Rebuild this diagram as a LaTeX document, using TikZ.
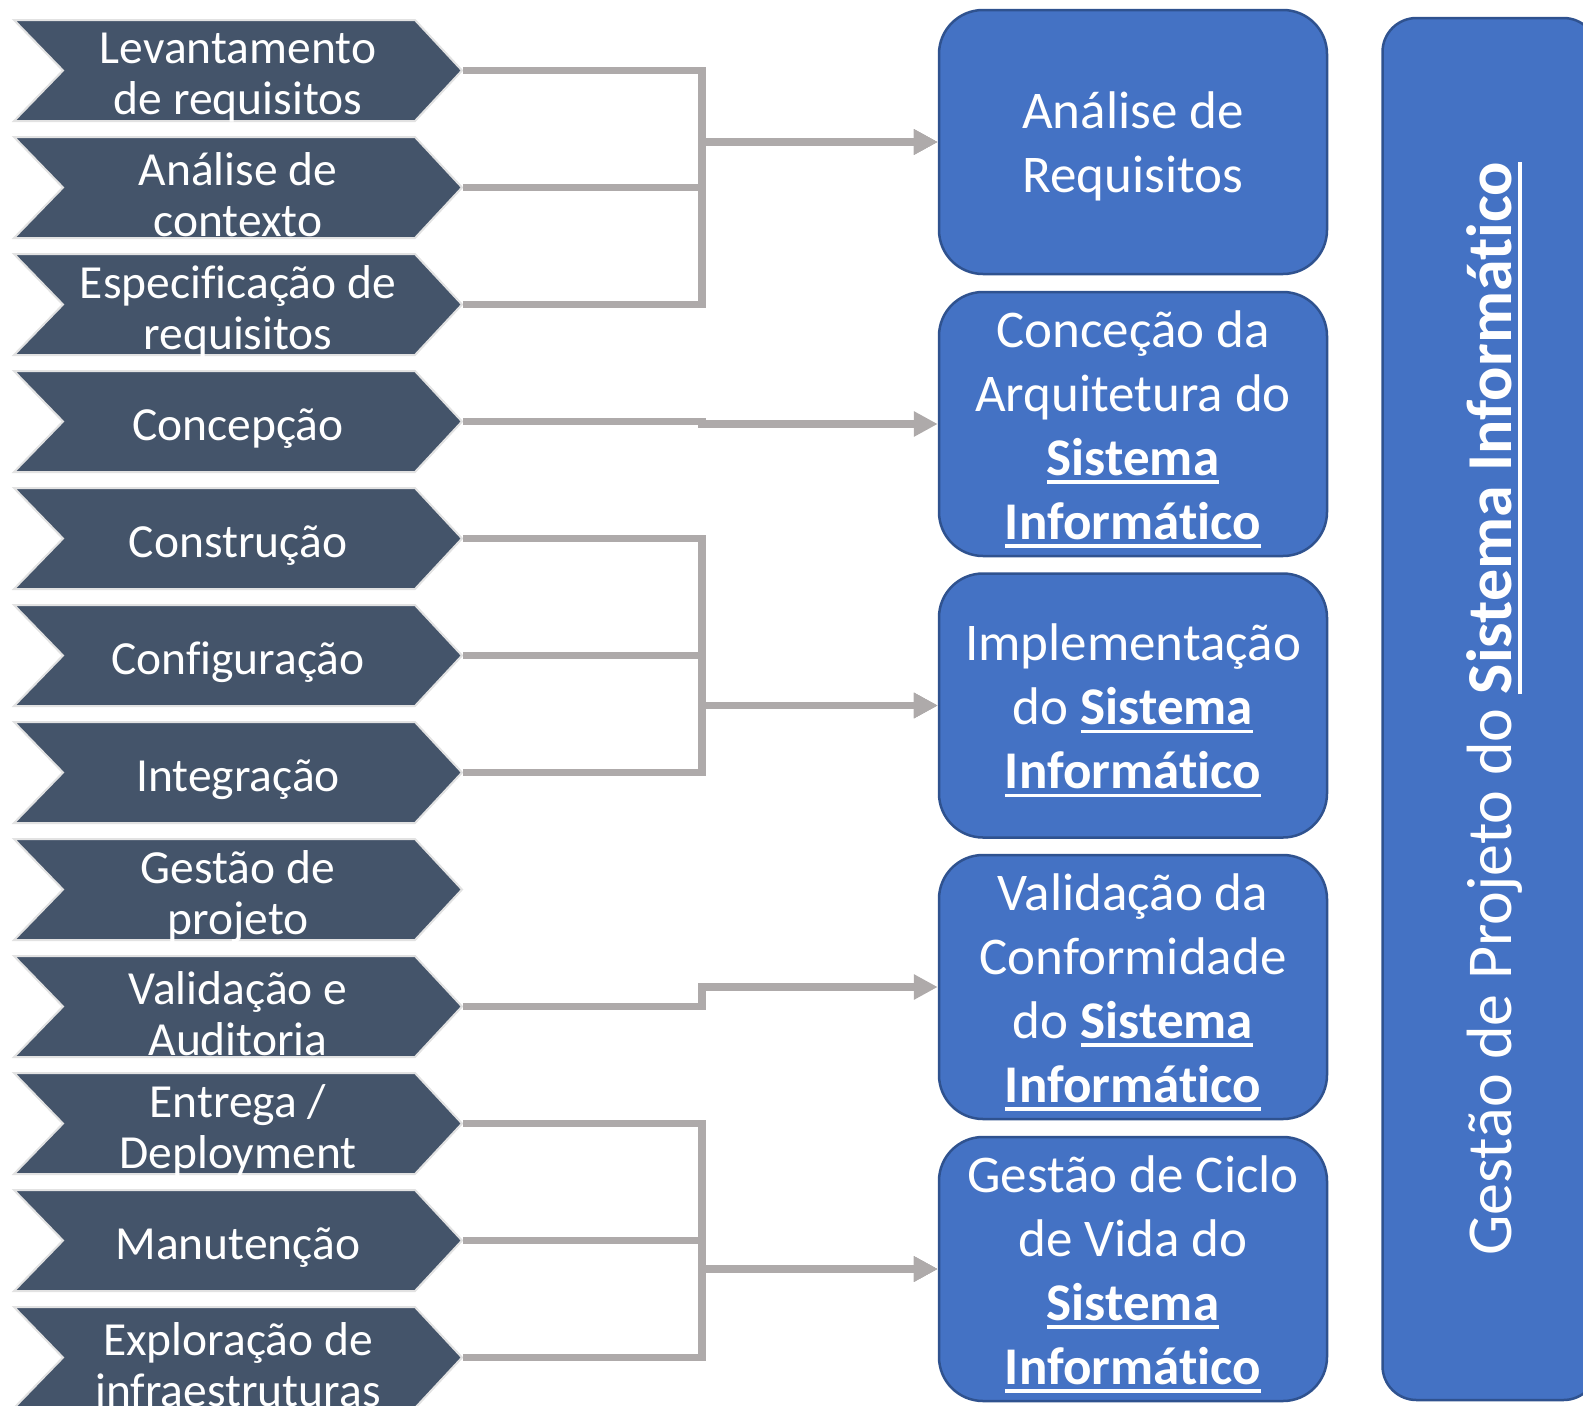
\documentclass[tikz,border=0pt]{standalone}
\usepackage{fontspec}
\setmainfont{Carlito}[Ligatures=NoCommon]
\usetikzlibrary{arrows.meta}
\definecolor{chev}{HTML}{44546A}
\definecolor{boxfill}{HTML}{4472C4}
\definecolor{boxline}{HTML}{2F528F}
\definecolor{conn}{HTML}{AEAAAA}
\definecolor{chevedge}{HTML}{E2E2E2}
\newcommand{\ubf}[1]{\setbox0\hbox{\bfseries #1}\rlap{\rule[-0.16em]{\wd0}{0.06em}}\box0}
\tikzset{
  chevshape/.style={fill=chev, draw=chevedge, line width=2pt},
  chevtext/.style={text=white, align=center, font=\fontsize{47.5}{51.5}\selectfont, inner sep=0pt},
  stagebox/.style={fill=boxfill, draw=boxline, line width=2.5pt, rounded corners=44pt,
    minimum width=388pt, minimum height=264pt, inner sep=0pt},
  stagetext/.style={text=white, align=center, font=\fontsize{53}{64}\selectfont, inner sep=0pt},
  tallbox/.style={fill=boxfill, draw=boxline, line width=2.5pt, rounded corners=34pt,
    minimum width=1382pt, minimum height=215pt, inner sep=0pt},
  talltext/.style={text=white, align=center, font=\fontsize{64}{77}\selectfont, inner sep=0pt},
  connector/.style={draw=conn, line width=7.5pt, -{Triangle[length=24pt,width=24pt]}}
}
\begin{document}
\begin{tikzpicture}[x=1pt,y=-1pt]
\useasboundingbox (0,0) rectangle (1583,1406);
\clip (0,0) rectangle (1583,1406);
% chevrons
\foreach \i/\txt in {0/{Levantamento\\de requisitos},1/{Análise de\\contexto},2/{Especificação de\\requisitos},3/{Concepção},4/{Construção},5/{Configuração},6/{Integração},7/{Gestão de\\projeto},8/{Validação e\\Auditoria},9/{Entrega /\\Deployment},10/{Manutenção},11/{Exploração de\\infraestruturas}}{
  \pgfmathsetmacro{\yt}{20+117*\i}
  \draw[chevshape] (14,\yt) -- (415,\yt) -- (462,\yt+50.5) -- (415,\yt+101) -- (14,\yt+101) -- (63,\yt+50.5) -- cycle;
  \node[chevtext] (c\i) at (238,\yt+57.5) {\txt};
  \coordinate (t\i) at (463,\yt+50.5);
}
% stage boxes
\node[stagebox] (b1) at (1133,142) {};
\node[stagebox] (b2) at (1133,424) {};
\node[stagebox] (b3) at (1133,705.5) {};
\node[stagebox] (b4) at (1133,987) {};
\node[stagebox] (b5) at (1133,1269) {};
\node[stagetext] (b1t) at ([yshift=-4.5pt]b1.center) {Análise de\\Requisitos};
\node[stagetext] (b2t) at ([yshift=-5pt]b2.center) {Conceção da\\Arquitetura do\\\ubf{Sistema}\\\ubf{Informático}};
\node[stagetext] (b3t) at ([yshift=-5pt]b3.center) {Implementação\\do \ubf{Sistema}\\\ubf{Informático}};
\node[stagetext] (b4t) at ([yshift=-5pt]b4.center) {Validação da\\Conformidade\\do \ubf{Sistema}\\\ubf{Informático}};
\node[stagetext] (b5t) at ([yshift=-5pt]b5.center) {Gestão de Ciclo\\de Vida do\\\ubf{Sistema}\\\ubf{Informático}};
% tall box
\node[tallbox, rotate=90] (pm) at (1490,709) {};
\node[talltext, rotate=90] (pmt) at (1495,709) {Gestão de Projeto do \ubf{Sistema Informático}};
% bus coordinates
\coordinate (busA) at (702,142);
\coordinate (busB) at (702,424);
\coordinate (busC) at (702,705.5);
\coordinate (busD) at (702,987);
\coordinate (busE) at (702,1269);
% connectors
\foreach \k in {0,1,2} \draw[connector] (t\k) -| (busA) -- (b1.west);
\draw[connector] (t3) -| (busB) -- (b2.west);
\foreach \k in {4,5,6} \draw[connector] (t\k) -| (busC) -- (b3.west);
\draw[connector] (t8) -| (busD) -- (b4.west);
\foreach \k in {9,10,11} \draw[connector] (t\k) -| (busE) -- (b5.west);
\end{tikzpicture}
\end{document}
